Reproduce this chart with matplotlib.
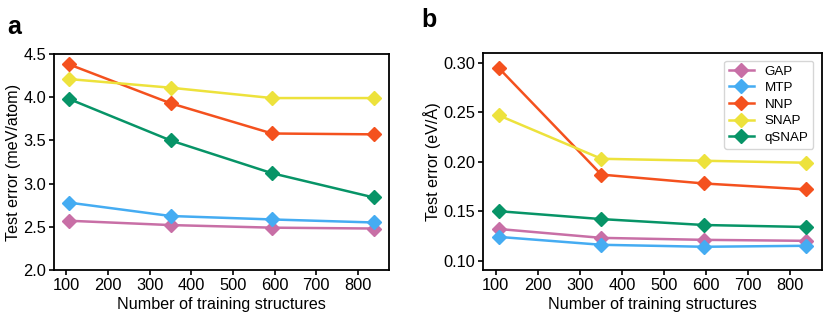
import matplotlib
matplotlib.use("Agg")
import matplotlib.pyplot as plt

plt.rcParams['font.family'] = ['Liberation Sans', 'DejaVu Sans']

# training set sizes
n_train_a = [106, 350, 594, 838]
n_train_b = [107, 351, 595, 838]

models = ['GAP', 'MTP', 'NNP', 'SNAP', 'qSNAP']
colors = ['#C86FA6', '#45ACF2', '#F4511E', '#EDE23C', '#079467']

# energy errors (meV/atom)
energy_err = {
    'GAP':   [2.57, 2.52, 2.49, 2.48],
    'MTP':   [2.78, 2.625, 2.585, 2.55],
    'NNP':   [4.38, 3.93, 3.58, 3.57],
    'SNAP':  [4.21, 4.11, 3.99, 3.99],
    'qSNAP': [3.98, 3.50, 3.12, 2.84],
}

# force errors (eV/A)
force_err = {
    'GAP':   [0.132, 0.123, 0.121, 0.120],
    'MTP':   [0.124, 0.116, 0.114, 0.115],
    'NNP':   [0.295, 0.187, 0.178, 0.172],
    'SNAP':  [0.247, 0.203, 0.201, 0.199],
    'qSNAP': [0.150, 0.142, 0.136, 0.134],
}

fig = plt.figure(figsize=(8.3, 3.18), dpi=100)
ax1 = fig.add_axes([54/830, 1 - 270/318, 335/830, 216/318])
ax2 = fig.add_axes([483/830, 1 - 270/318, 339/830, 217/318])

for m, c in zip(models, colors):
    ax1.plot(n_train_a, energy_err[m], color=c, lw=1.8, marker='D', ms=7, label=m)
    ax2.plot(n_train_b, force_err[m], color=c, lw=1.8, marker='D', ms=7, label=m)

for ax in (ax1, ax2):
    ax.set_xticks([100, 200, 300, 400, 500, 600, 700, 800])
    ax.set_xlim(70, 875)
    ax.tick_params(labelsize=11.8, width=1.2, length=3.5, pad=2)
    for s in ax.spines.values():
        s.set_linewidth(1.3)
    ax.set_xlabel('Number of training structures', fontsize=11.6, labelpad=3)

ax1.set_ylim(2.0, 4.5)
ax1.set_yticks([2.0, 2.5, 3.0, 3.5, 4.0, 4.5])
ax1.set_yticklabels(['2.0', '2.5', '3.0', '3.5', '4.0', '4.5'])
ax1.set_ylabel('Test error (meV/atom)', fontsize=11.6, labelpad=2)

ax2.set_ylim(0.0905, 0.310)
ax2.set_yticks([0.10, 0.15, 0.20, 0.25, 0.30])
ax2.set_yticklabels(['0.10', '0.15', '0.20', '0.25', '0.30'])
ax2.set_ylabel('Test error (eV/Å)', fontsize=11.6, labelpad=2)

ax2.legend(loc='upper right', fontsize=9.6, frameon=True, handlelength=1.9,
           labelspacing=0.32, borderpad=0.35, handletextpad=0.8,
           borderaxespad=0.4, bbox_to_anchor=(0.99, 0.99))

fig.text(7/830, 1 - 27/318, 'a', fontsize=18, fontweight='bold', va='center')
fig.text(421/830, 1 - 20/318, 'b', fontsize=18, fontweight='bold', va='center')

fig.savefig('out.png', dpi=100)
